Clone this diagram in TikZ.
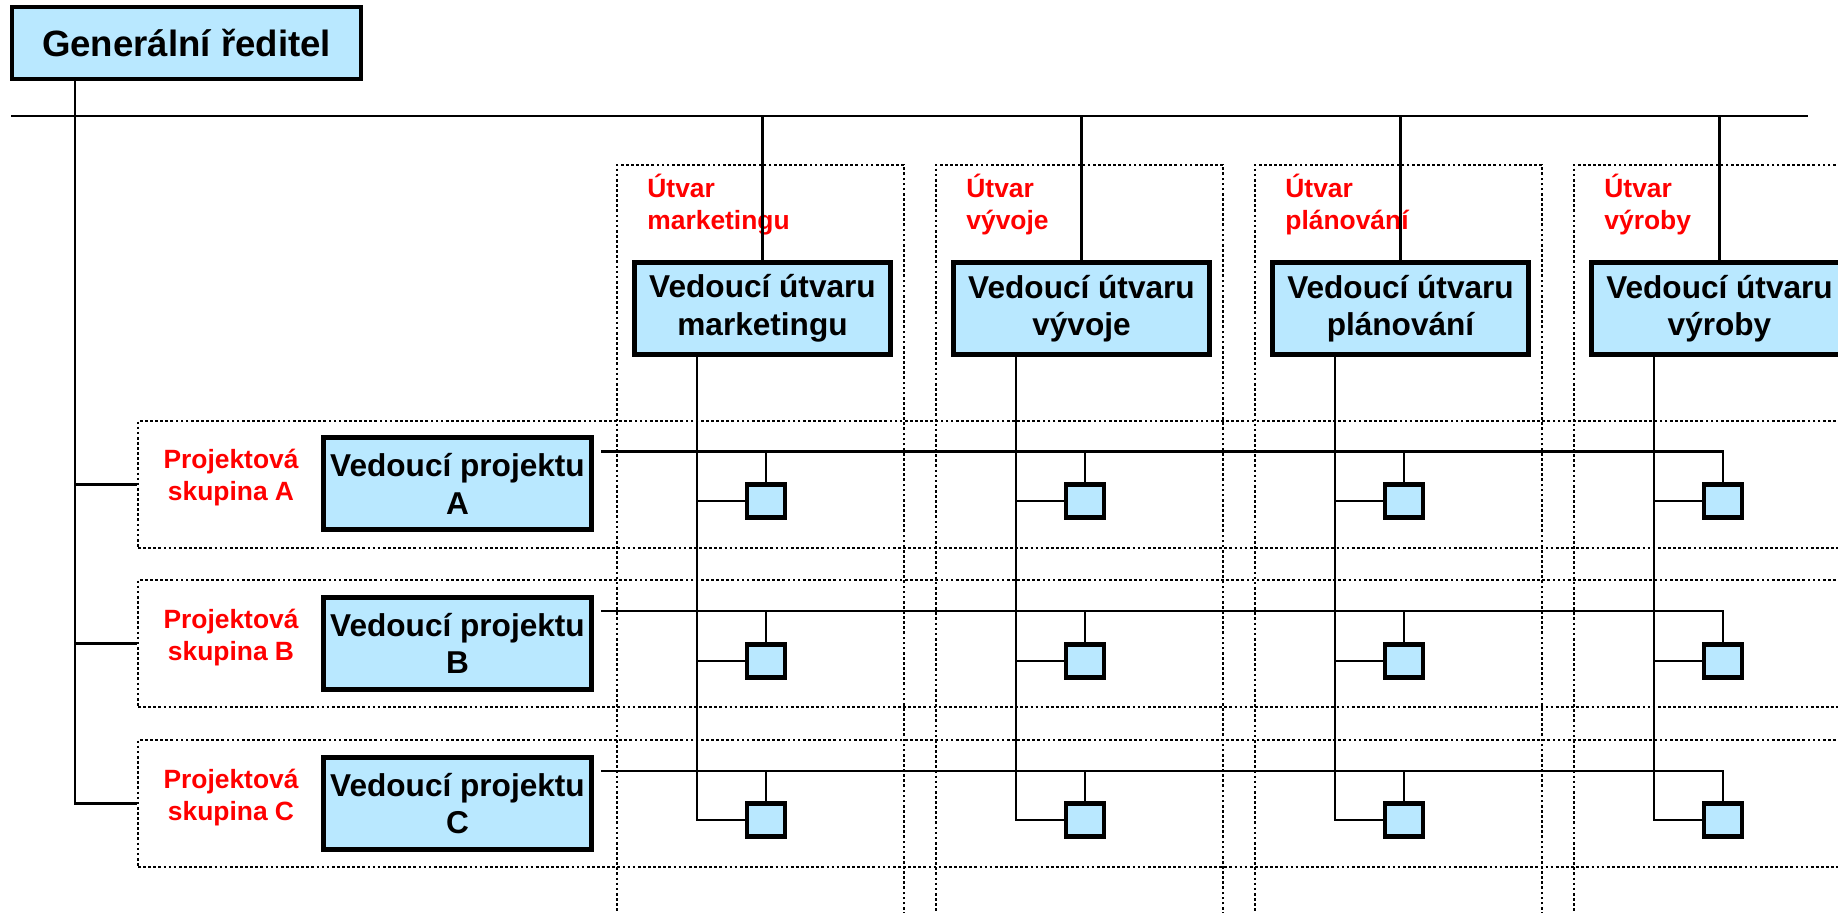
\documentclass[tikz,border=0pt]{standalone}
\usepackage{fontspec}
\setmainfont{Liberation Sans}
\definecolor{boxblue}{RGB}{185,232,255}
\definecolor{labred}{RGB}{255,0,0}
\begin{document}
\begin{tikzpicture}[x=0.5pt,y=-0.5pt,
  conn/.style={line width=1.15pt},
  grbox/.style={draw, line width=2.2pt, fill=boxblue, minimum width=174.5pt, minimum height=36pt, inner sep=0pt, font=\fontsize{18.3}{22}\selectfont\bfseries},
  colhead/.style={draw, line width=2.5pt, fill=boxblue, minimum width=128pt, minimum height=46pt, inner sep=0pt, align=center, font=\fontsize{15.8}{18.8}\selectfont\bfseries},
  projhead/.style={colhead, minimum width=134pt},
  member/.style={draw, line width=2.2pt, fill=boxblue, minimum width=19pt, minimum height=16.5pt, inner sep=0pt},
  groupbox/.style={draw, line width=1.35pt, dash pattern=on 1.35pt off 1.2pt, inner sep=0pt},
  rowlab/.style={text=labred, inner sep=0pt, align=center, font=\fontsize{13.2}{16}\selectfont\bfseries},
  collab/.style={text=labred, inner sep=0pt, align=left, anchor=north west, font=\fontsize{13.2}{16}\selectfont\bfseries},
]
\useasboundingbox (0,0) rectangle (1838,913);
\clip (0,0) rectangle (1838,913);

% dotted group boxes
\foreach \i in {1,...,4}
  \node[groupbox, minimum width=143.5pt, minimum height=417.5pt] (D\i) at ({760.5+319*(\i-1)},582.5) {};
\foreach \r/\y in {A/484.5,B/643.5,C/803.5}
  \node[groupbox, minimum width=881pt, minimum height=63.5pt] (R\r) at (1019,\y) {};

% top bar
\coordinate (TL) at (11,116);
\coordinate (TR) at (1808,116);
\draw[conn] (TL) -- (TR);

% general director
\node[grbox] (GR) at (186.5,43) {Generální ředitel};
\coordinate (TX) at (75,0);
\draw[conn] (GR.south -| TX) |- (RC.west);
\draw[conn] (TX |- RA.west) -- (RA.west);
\draw[conn] (TX |- RB.west) -- (RB.west);

% department heads
\foreach \i/\nm in {1/marketingu,2/vývoje,3/plánování,4/výroby} {
  \node[colhead] (H\i) at ({762.5+319*(\i-1)},308.5) {Vedoucí útvaru\\\nm};
  \node[collab] (U\i) at ({647+319*(\i-1)},174) {Útvar\\\nm};
  \draw[conn] (H\i.north |- TL) -- (H\i.north);
  \coordinate (V\i) at ([xshift=32.5pt]H\i.south west);
}

% project heads and labels
\foreach \r/\y in {A/484,B/643.5,C/803.5} {
  \node[projhead] (P\r) at (457.5,\y) {Vedoucí projektu\\\r};
  \node[rowlab] (G\r) at (231,\y-6) {Projektová\\skupina \r};
}

% members
\foreach \r/\y in {A/501,B/661,C/820}
  \foreach \i in {1,...,4}
    \node[member] (S\r\i) at ({766+319*(\i-1)},\y) {};

% project lines
\foreach \r in {A,B,C} {
  \coordinate (p\r) at ([xshift=3.5pt,yshift=-8pt]P\r.north east);
  \draw[conn] (p\r) -| (S\r4.north);
  \foreach \i in {1,2,3}
    \draw[conn] (S\r\i.north |- p\r) -- (S\r\i.north);
}

% department lines
\foreach \i in {1,...,4} {
  \draw[conn] (V\i) |- (SC\i.west);
  \draw[conn] (V\i |- SA\i.west) -- (SA\i.west);
  \draw[conn] (V\i |- SB\i.west) -- (SB\i.west);
}
\end{tikzpicture}
\end{document}
